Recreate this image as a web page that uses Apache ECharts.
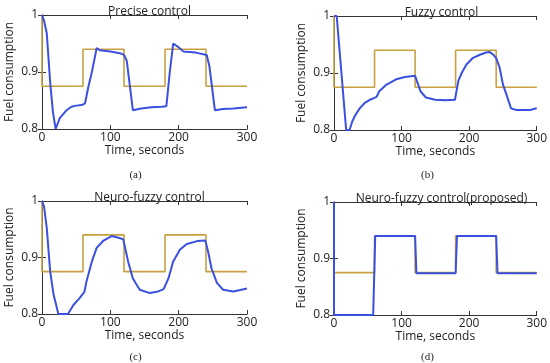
<!DOCTYPE html>
<html>
<head>
<meta charset="utf-8">
<script src="https://cdn.jsdelivr.net/npm/echarts@6/dist/echarts.min.js"></script>
<style>html,body{margin:0;padding:0;background:#fff;}#c{width:550px;height:363px;}</style>
</head>
<body>
<div id="c"></div>
<script>
// Reference (setpoint) signal shared by all panels
var refT = [0, 0, 60, 60, 120, 120, 180, 180, 240, 240, 300];
var refV = [1.0, 0.875, 0.875, 0.94, 0.94, 0.875, 0.875, 0.94, 0.94, 0.875, 0.875];

// (a) Precise control
var aT = [0, 3, 7, 12, 16, 20, 26, 36, 43, 50, 58, 63, 68, 73, 80, 85, 100, 114, 120, 124, 133, 145, 160, 175, 182, 187, 192, 198, 207, 225, 241, 245, 253, 265, 280, 300];
var aV = [1.0, 0.99, 0.968, 0.881, 0.83, 0.80, 0.819, 0.833, 0.839, 0.841, 0.842, 0.845, 0.875, 0.90, 0.942, 0.938, 0.936, 0.933, 0.930, 0.92, 0.833, 0.836, 0.838, 0.839, 0.840, 0.90, 0.950, 0.945, 0.936, 0.934, 0.930, 0.91, 0.833, 0.835, 0.836, 0.838];

// (b) Fuzzy control
var bT = [0, 4, 18, 23, 27, 31, 38, 45, 53, 59, 63, 67, 77, 92, 105, 120, 123, 128, 136, 150, 165, 179, 184, 189, 196, 205, 216, 225, 230, 236, 240, 245, 250, 255, 262, 270, 290, 300];
var bV = [1.0, 1.0, 0.80, 0.80, 0.815, 0.825, 0.838, 0.847, 0.853, 0.856, 0.858, 0.868, 0.879, 0.889, 0.893, 0.895, 0.885, 0.868, 0.857, 0.853, 0.852, 0.853, 0.886, 0.900, 0.915, 0.926, 0.932, 0.936, 0.937, 0.932, 0.926, 0.91, 0.88, 0.863, 0.838, 0.835, 0.835, 0.838];

// (c) Neuro-fuzzy control
var cT = [0, 3, 7, 12, 17, 24, 31, 38, 46, 55, 62, 65, 73, 80, 90, 102, 112, 119, 126, 133, 143, 158, 170, 178, 185, 192, 202, 212, 227, 239, 243, 248, 256, 265, 280, 300];
var cV = [1.0, 0.99, 0.952, 0.875, 0.834, 0.80, 0.80, 0.80, 0.816, 0.828, 0.839, 0.857, 0.893, 0.917, 0.930, 0.938, 0.935, 0.932, 0.893, 0.863, 0.843, 0.837, 0.840, 0.844, 0.863, 0.893, 0.914, 0.924, 0.929, 0.930, 0.911, 0.881, 0.855, 0.843, 0.840, 0.845];

// (d) Neuro-fuzzy control (proposed)
var dT = [0, 0, 58, 61, 120, 122, 180, 182, 240, 242, 300];
var dV = [1.0, 0.80, 0.80, 0.94, 0.94, 0.874, 0.874, 0.94, 0.94, 0.874, 0.874];

var titles = ['Precise control', 'Fuzzy control', 'Neuro-fuzzy control', 'Neuro-fuzzy control(proposed)'];
var captions = ['(a)', '(b)', '(c)', '(d)'];
var xTicks = [0, 100, 200, 300];
var yTicks = [0.8, 0.9, 1];

var blue = [[aT, aV], [bT, bV], [cT, cV], [dT, dV]];

function zip(t, v) { return t.map(function (x, i) { return [x, v[i]]; }); }

var grids = [
  {left: 42, top: 15, width: 205, height: 114},
  {left: 334, top: 16, width: 205, height: 114},
  {left: 42, top: 201, width: 205, height: 113},
  {left: 334, top: 202, width: 205, height: 113}
];
var titleTops = [1, 2, 187, 188];
var captionTops = [165, 165, 347, 347];
var FONT = 'Open Sans';
var axisCol = '#333';
var xAxes = [], yAxes = [], series = [], titleArr = [];
grids.forEach(function (g, i) {
  var common = {
    axisLine: {show: true, lineStyle: {color: axisCol, width: 1}},
    axisTick: {show: true, inside: true, length: 4, lineStyle: {color: axisCol}},
    splitLine: {show: false}
  };
  xAxes.push(Object.assign({}, common, {
    gridIndex: i, type: 'value', min: xTicks[0], max: xTicks[xTicks.length - 1], interval: 100,
    position: 'bottom',
    axisLabel: {show: true, color: '#222', fontSize: 12, fontFamily: FONT, margin: 3},
    name: 'Time, seconds', nameLocation: 'middle', nameGap: 9,
    nameTextStyle: {color: '#222', fontSize: 12, fontFamily: FONT, verticalAlign: 'top'}
  }));
  xAxes.push(Object.assign({}, common, {
    gridIndex: i, type: 'value', min: xTicks[0], max: xTicks[xTicks.length - 1], interval: 100,
    position: 'top', axisLabel: {show: false}
  }));
  yAxes.push(Object.assign({}, common, {
    gridIndex: i, type: 'value', min: yTicks[0], max: yTicks[yTicks.length - 1], interval: 0.1,
    position: 'left',
    axisLabel: {show: true, color: '#222', fontSize: 12, fontFamily: FONT, margin: 4,
      formatter: function (v) { return String(+(+v).toFixed(1)); }},
    name: 'Fuel consumption', nameLocation: 'middle', nameGap: 26,
    nameTextStyle: {color: '#222', fontSize: 12, fontFamily: FONT}
  }));
  yAxes.push(Object.assign({}, common, {
    gridIndex: i, type: 'value', min: yTicks[0], max: yTicks[yTicks.length - 1], interval: 0.1,
    position: 'right', axisLabel: {show: false}
  }));
  series.push({
    type: 'line', xAxisIndex: 2 * i, yAxisIndex: 2 * i, data: zip(refT, refV),
    showSymbol: false, symbol: 'none', lineStyle: {color: '#c8a040', width: 1.6}, animation: false, z: 2
  });
  series.push({
    type: 'line', xAxisIndex: 2 * i, yAxisIndex: 2 * i, data: zip(blue[i][0], blue[i][1]),
    showSymbol: false, symbol: 'none', lineStyle: {color: '#3a50e0', width: 2}, animation: false, z: 3
  });
  titleArr.push({
    text: titles[i], left: g.left + g.width / 2, top: titleTops[i], textAlign: 'center',
    textStyle: {fontSize: 12, fontWeight: 'normal', color: '#222', fontFamily: FONT}
  });
  titleArr.push({
    text: captions[i], left: g.left + g.width / 2 - 14, top: captionTops[i], textAlign: 'center',
    textStyle: {fontSize: 11, fontWeight: 'normal', color: '#222', fontFamily: 'Liberation Serif'}
  });
});

var chart = echarts.init(document.getElementById('c'), null, {renderer: 'canvas'});
chart.setOption({
  animation: false,
  title: titleArr,
  grid: grids.map(function (g) { return Object.assign({containLabel: false}, g); }),
  xAxis: xAxes,
  yAxis: yAxes,
  series: series
});
</script>
</body>
</html>
